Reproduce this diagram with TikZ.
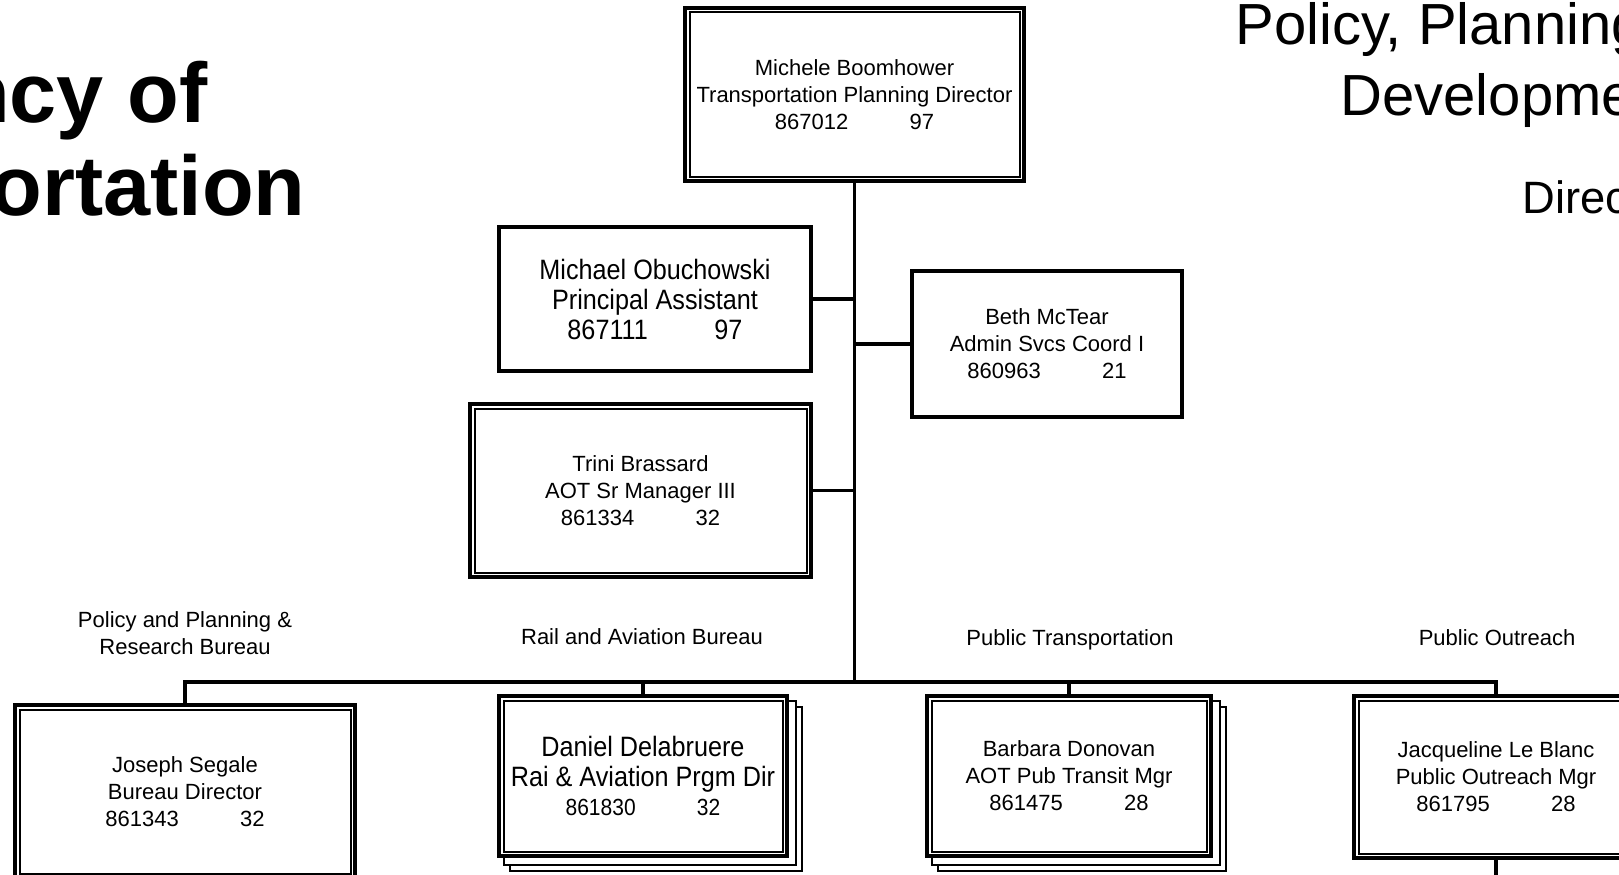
\documentclass[tikz,border=0pt]{standalone}
\usepackage{fontspec}
\setmainfont{Liberation Sans}
\newfontfamily\narrowfont{Liberation Sans}[FakeStretch=0.9]
\usetikzlibrary{calc,backgrounds}

\newcommand{\gradesep}[1][46pt]{\hspace{#1}}

\tikzset{every picture/.style={line width=0.75pt}}
\tikzset{
  card/.style={draw, fill=white, line width=3pt, align=center, inner sep=0pt,
    font=\fontsize{16.5}{20.25}\selectfont},
  dblcard/.style={card},
  innerline/.style={line width=1.5pt},
  shadowline/.style={draw, fill=white, line width=1.5pt},
  orgline/.style={line width=2.6pt},
  unitlabel/.style={inner sep=0pt, align=center, font=\fontsize{16.5}{20.25}\selectfont},
}

\begin{document}
\begin{tikzpicture}[x=0.75pt,y=0.75pt,yscale=-1,xscale=1]
\useasboundingbox (0,0) rectangle (1619,874);

% Title Text
\draw (208,122) node (agency) [anchor=base east, inner sep=0pt, font=\bfseries\fontsize{63.5}{63.5}\selectfont] {Agency of};
\draw (306,215) node (transp) [anchor=base east, inner sep=0pt, font=\bfseries\fontsize{63.5}{63.5}\selectfont] {Transportation};
\draw (1235,45) node (policy) [anchor=base west, inner sep=0pt, font=\fontsize{43.5}{43.5}\selectfont] {Policy, Planning};
\draw (1340,115) node (devel) [anchor=base west, inner sep=0pt, font=\fontsize{43.5}{43.5}\selectfont] {Development};
\draw (1522,213) node (direc) [anchor=base west, inner sep=0pt, font=\fontsize{34}{34}\selectfont] {Director};

% Text Node
\draw (854.5,94.5) node (top) [dblcard, minimum width=254.25pt, minimum height=129.75pt] {Michele Boomhower\\Transportation Planning Director\\867012\gradesep 97};
% Text Node
\draw (655,299) node (michael) [card, minimum width=234pt, minimum height=108pt, font=\narrowfont\fontsize{21}{22.5}\selectfont] {Michael Obuchowski\\Principal Assistant\\867111\gradesep[50pt]97};
% Text Node
\draw (1047,344) node (beth) [card, minimum width=202.5pt, minimum height=109.5pt] {Beth McTear\\Admin Svcs Coord I\\860963\gradesep 21};
% Text Node
\draw (640.5,490.5) node (trini) [dblcard, minimum width=255.75pt, minimum height=129.75pt] {Trini Brassard\\AOT Sr Manager III\\861334\gradesep 32};
% Text Node
\draw (185,791.5) node (joseph) [dblcard, minimum width=255pt, minimum height=129.75pt] {Joseph Segale\\Bureau Director\\861343\gradesep 32};
% Text Node
\draw (643,776) node (daniel) [dblcard, minimum width=216pt, minimum height=120pt, font=\narrowfont\fontsize{21}{22}\selectfont] {Daniel Delabruere\\Rai \& Aviation Prgm Dir\\{\fontsize{17.5}{20.25}\selectfont 861830\gradesep 32}};
% Text Node
\draw (1069,776) node (barbara) [dblcard, minimum width=213pt, minimum height=120pt] {Barbara Donovan\\AOT Pub Transit Mgr\\861475\gradesep 28};
% Text Node
\draw (1496,777) node (jacq) [dblcard, minimum width=213pt, minimum height=121.5pt] {Jacqueline Le Blanc\\Public Outreach Mgr\\861795\gradesep 28};

%Inner Frames
\foreach \n in {top,trini,joseph,daniel,barbara,jacq}
  \draw[innerline] ($(\n.north west)+(6.5,6.5)$) rectangle ($(\n.south east)+(-6.5,-6.5)$);

%Stacked Copies
\begin{scope}[on background layer]
\foreach \n in {daniel,barbara}
  \foreach \d in {13,6.5}
    \draw[shadowline] ($(\n.north west)+(\d,\d)$) rectangle ($(\n.south east)+(\d,\d)$);
\end{scope}

% Unit Labels
\draw (185,633) node (lblpol) [unitlabel] {Policy and Planning \&\\Research Bureau};
\draw (642,644) node (lblrail) [unitlabel, anchor=base] {Rail and Aviation Bureau};
\draw (1070,645) node (lblpub) [unitlabel, anchor=base] {Public Transportation};
\draw (1497,645) node (lblout) [unitlabel, anchor=base] {Public Outreach};

%Straight Lines
\coordinate (bus) at (854.5,682);
\coordinate (jstub) at (1496,890);
\draw[orgline] (top.south) -- (bus);
\draw[orgline] (michael.east) -- (michael.east -| bus);
\draw[orgline] (beth.west) -- (beth.west -| bus);
\draw[orgline] (trini.east) -- (trini.east -| bus);
\draw[orgline] (joseph.north) |- (bus) -| (jacq.north);
\draw[orgline] (bus -| daniel.north) -- (daniel.north);
\draw[orgline] (bus -| barbara.north) -- (barbara.north);
\draw[orgline] (jacq.south) -- (jstub);

\end{tikzpicture}
\end{document}
